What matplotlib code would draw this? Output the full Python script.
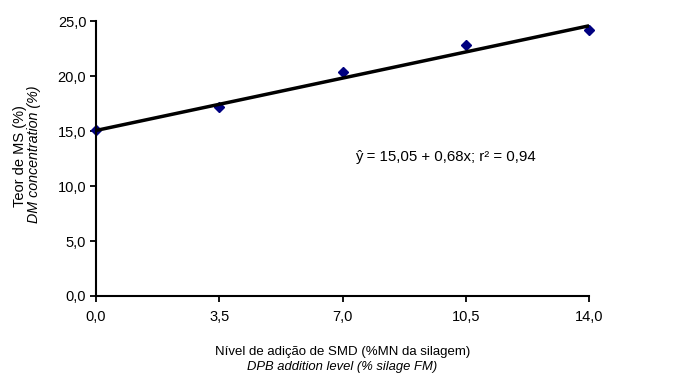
import matplotlib
matplotlib.use("Agg")
import matplotlib.pyplot as plt
import numpy as np

plt.rcParams['font.family'] = ['Liberation Sans', 'DejaVu Sans']

# data
x_levels = [0.0, 3.5, 7.0, 10.5, 14.0]
dm_values = [15.1, 17.2, 20.4, 22.8, 24.2]
intercept = 15.05
slope = 0.68
x_ticks = [0.0, 3.5, 7.0, 10.5, 14.0]
x_tick_labels = ["0,0", "3,5", "7,0", "10,5", "14,0"]
y_ticks = [0, 5, 10, 15, 20, 25]
y_tick_labels = ["0,0", "5,0", "10,0", "15,0", "20,0", "25,0"]

fig = plt.figure(figsize=(6.74, 3.76), dpi=100)
ax = fig.add_axes([0.1424, 0.2128, 0.7316, 0.7312])

ax.plot(x_levels, dm_values, linestyle="none", marker="D", ms=5,
        color="#000080", zorder=2, clip_on=False)
xl = np.array([0.0, 14.0])
ax.plot(xl, intercept + slope * xl, color="black", lw=2.5, zorder=3,
        solid_capstyle="butt")

ax.set_xlim(0, 14)
ax.set_ylim(0, 25)
ax.set_xticks(x_ticks)
ax.set_xticklabels(x_tick_labels)
ax.set_yticks(y_ticks)
ax.set_yticklabels(y_tick_labels)
ax.tick_params(direction="out", length=4, width=1.3, labelsize=10.5, pad=3)
ax.tick_params(axis="x", pad=6)
for s in ["top", "right"]:
    ax.spines[s].set_visible(False)
for s in ["left", "bottom"]:
    ax.spines[s].set_linewidth(1.5)

ax.text(7.35, 12.6, "ŷ = 15,05 + 0,68x; r² = 0,94", fontsize=10.8, va="center")

fig.text(0.029, 0.585, "Teor de MS (%)", rotation=90, fontsize=10.5,
         ha="center", va="center")
fig.text(0.050, 0.59, "DM concentration (%)", rotation=90, fontsize=10.3,
         style="italic", ha="center", va="center")
fig.text(0.508, 0.063, "Nível de adição de SMD (%MN da silagem)", fontsize=9.5,
         ha="center", va="center")
fig.text(0.508, 0.023, "DPB addition level (% silage FM)", fontsize=9.4,
         style="italic", ha="center", va="center")

fig.savefig("out.png", dpi=100)
